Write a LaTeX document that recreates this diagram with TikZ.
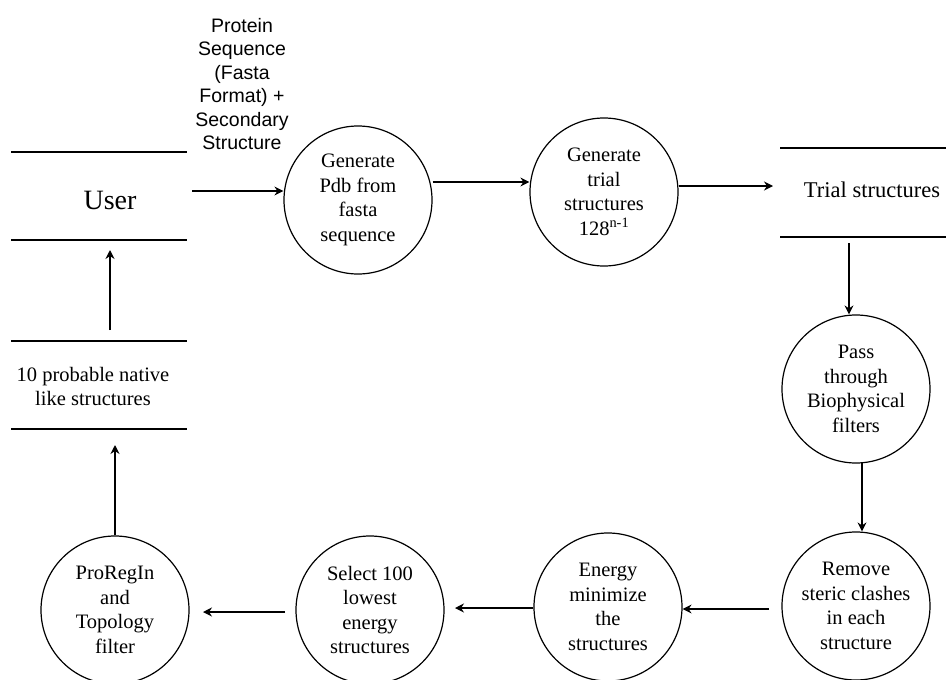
\documentclass[tikz,border=0pt]{standalone}
\usepackage{fontspec}
\setmainfont{Liberation Serif}
\newfontfamily\labelsans{Liberation Sans}
\usetikzlibrary{arrows.meta}
\begin{document}
\begin{tikzpicture}[x=1pt,y=-1pt,
  proc/.style={circle,draw,line width=1.2pt,minimum size=148pt,inner sep=0pt,align=center,
    font=\fontsize{20.5}{24.5}\selectfont},
  storeline/.style={line width=1.2pt},
  storetext/.style={align=center,font=\fontsize{22.5}{24}\selectfont},
  flow/.style={line width=1.2pt,-{Stealth[length=9pt,width=9pt,inset=3pt]}}]
\useasboundingbox (0,0) rectangle (946,680);
% stores
\draw[storeline] (11,152) -- (187,152) (11,240) -- (187,240);
\node[storetext,font=\fontsize{28}{30}\selectfont] (user) at (110,200) {User};
\coordinate (userR) at (192,191);
\coordinate (userB) at (110,250);
\draw[storeline] (780,148) -- (946,148) (780,237) -- (946,237);
\node[storetext] (trial) at (872,190) {Trial structures};
\coordinate (trialL) at (773,186);
\coordinate (trialB) at (849,243);
\draw[storeline] (11,341) -- (187,341) (11,429) -- (187,429);
\node[storetext,font=\fontsize{20.5}{24}\selectfont] (native) at (93,386) {10 probable native\\like structures};
\coordinate (nativeT) at (110,330);
\coordinate (nativeB) at (115,445);
% processes
\node[proc] (c1) at (358,200) {Generate\\Pdb from\\fasta\\sequence};
\node[proc] (c2) at (604,192) {Generate\\trial\\structures\\128\textsuperscript{n-1}};
\node[proc] (c3) at (856,389) {Pass\\through\\Biophysical\\filters};
\node[proc] (c4) at (856,606) {Remove\\steric clashes\\in each\\structure};
\node[proc] (c5) at (608,607) {Energy\\minimize\\the\\structures};
\node[proc] (c6) at (370,610) {Select 100\\lowest\\energy\\structures};
\node[proc] (c7) at (115,610) {ProRegIn\\and\\Topology\\filter};
% label
\node[align=center,font=\labelsans\fontsize{19.5}{23.5}\selectfont] (lbl) at (242,84)
  {Protein\\Sequence\\(Fasta\\Format) +\\Secondary\\Structure};
% flows
\draw[flow] (userR) -- (c1.west |- userR);
\draw[flow] (c1.east |- 0,182) -- (c2.west |- 0,182);
\draw[flow] (c2.east |- trialL) -- (trialL);
\draw[flow] (trialB) -- (c3.north -| trialB);
\draw[flow] (862,463) -- (c4.north -| 862,0);
\draw[flow] (769,609) -- (c5.east |- 0,609);
\draw[flow] (c5.west |- 0,608) -- (455,608);
\draw[flow] (285,612) -- (203,612);
\draw[flow] (c7.north) -- (nativeB);
\draw[flow] (nativeT) -- (userB);
\end{tikzpicture}
\end{document}
